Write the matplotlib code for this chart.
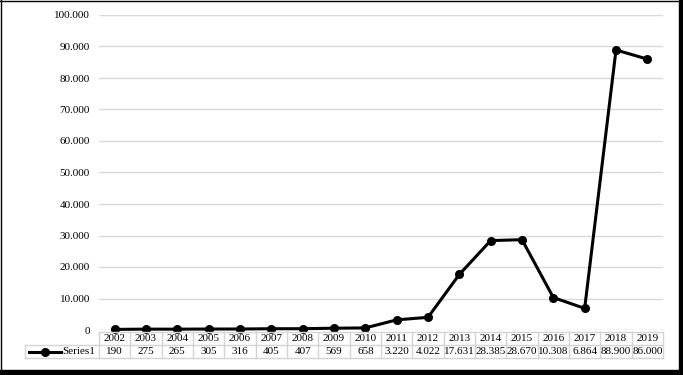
import matplotlib.pyplot as plt
from matplotlib.lines import Line2D
from matplotlib.patches import Rectangle
from matplotlib.transforms import blended_transform_factory

plt.rcParams['font.family'] = ['Liberation Serif', 'DejaVu Serif']

years = [2002, 2003, 2004, 2005, 2006, 2007, 2008, 2009, 2010,
         2011, 2012, 2013, 2014, 2015, 2016, 2017, 2018, 2019]
series1 = [190, 275, 265, 305, 316, 405, 407, 569, 658,
           3220, 4022, 17631, 28385, 28670, 10308, 6864, 88900, 86000]
series_name = 'Series1'
yticks = list(range(0, 100001, 10000))

W, H = 683, 375
fig = plt.figure(figsize=(W / 100, H / 100), dpi=100)

def fx(px):
    return px / W

def fy(py):
    return 1 - py / H

ax_l, ax_r, ax_t, ax_b = 99, 663, 15, 330
ax = fig.add_axes([fx(ax_l), fy(ax_b), fx(ax_r - ax_l), (ax_b - ax_t) / H])

x = list(range(len(years)))
ax.plot(x, series1, color='black', lw=2.2, marker='o', ms=5.5, clip_on=False, zorder=5)
ax.set_xlim(-0.5, len(years) - 0.5)
ax.set_ylim(0, 100000)
ax.set_yticks(yticks)
ax.set_yticklabels([f'{v:,}'.replace(',', '.') for v in yticks], fontsize=8)
ax.set_xticks([])
ax.tick_params(axis='y', length=0, pad=6.5)
ax.grid(axis='y', color='#d9d9d9', lw=1)
ax.set_axisbelow(True)
for s in ax.spines.values():
    s.set_visible(False)

# data table below the plot
grid_c = '#d4d4d4'
tr = blended_transform_factory(ax.transData, fig.transFigure)
r0, r1, r2 = 332, 345, 358
label_left = 25

def hline(x0, x1, y, trans):
    fig.add_artist(Line2D([x0, x1], [fy(y), fy(y)], transform=trans, color=grid_c, lw=1))

hline(-0.5, len(years) - 0.5, r0, tr)
fig.add_artist(Line2D([fx(label_left), fx(ax_l)], [fy(r1), fy(r1)], color=grid_c, lw=1))
fig.add_artist(Line2D([fx(label_left), fx(ax_l)], [fy(r2), fy(r2)], color=grid_c, lw=1))
hline(-0.5, len(years) - 0.5, r1, tr)
hline(-0.5, len(years) - 0.5, r2, tr)
for i in range(len(years) + 1):
    fig.add_artist(Line2D([i - 0.5, i - 0.5], [fy(r0), fy(r2)], transform=tr, color=grid_c, lw=1))
fig.add_artist(Line2D([fx(label_left), fx(label_left)], [fy(r1), fy(r2)], color=grid_c, lw=1))

for i, (yr, v) in enumerate(zip(years, series1)):
    fig.text(i, fy((r0 + r1) / 2), str(yr), transform=tr, ha='center', va='center', fontsize=8)
    fig.text(i, fy((r1 + r2) / 2), f'{v:,}'.replace(',', '.'), transform=tr,
             ha='center', va='center', fontsize=8)

# legend key in row label
ky = fy((r1 + r2) / 2)
fig.add_artist(Line2D([fx(29), fx(61)], [ky, ky], color='black', lw=2.2))
fig.add_artist(Line2D([fx(45)], [ky], color='black', marker='o', ms=5.5))
fig.text(fx(62), ky, series_name, ha='left', va='center', fontsize=8)

# chart border
fig.add_artist(Line2D([fx(0.5), fx(0.5)], [fy(0), fy(372)], color='black', lw=1))
fig.add_artist(Line2D([fx(0), fx(681)], [fy(0.5), fy(0.5)], color='black', lw=1))
fig.add_artist(Rectangle((fx(679), 0), fx(4), 1, transform=fig.transFigure, color='black'))
fig.add_artist(Rectangle((0, 0), 1, 5 / H, transform=fig.transFigure, color='black'))

fig.savefig('out.png', dpi=100)
